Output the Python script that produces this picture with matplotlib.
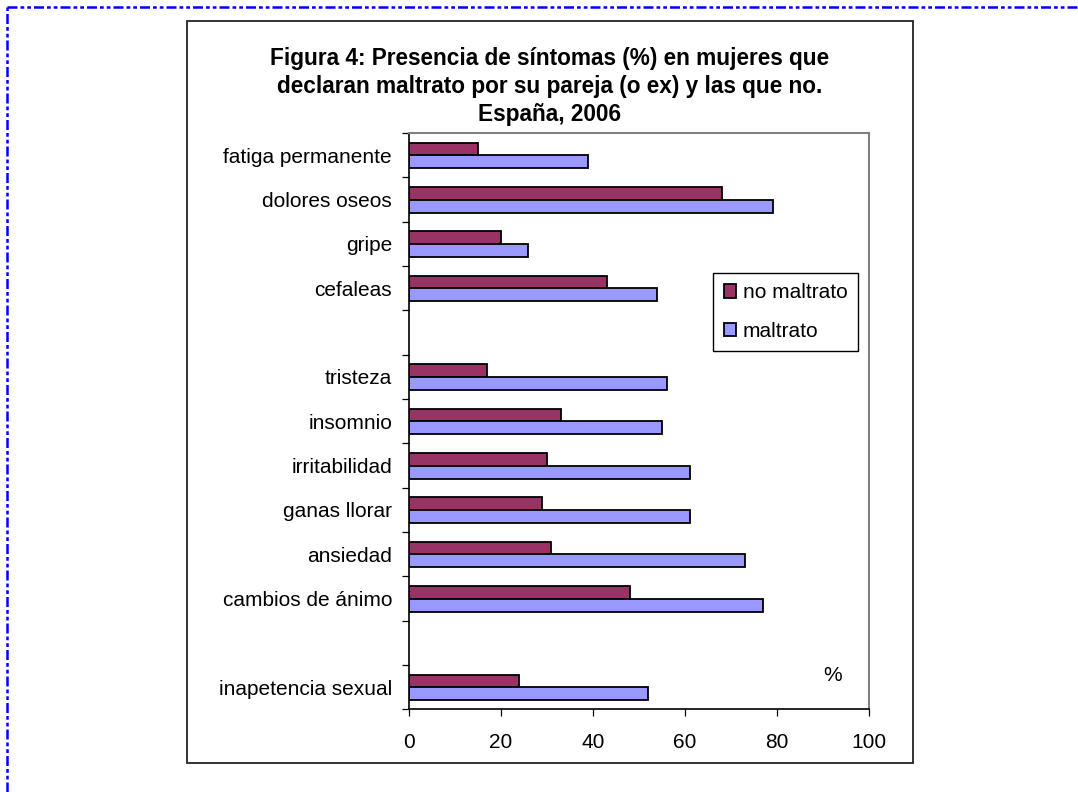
import numpy as np
import matplotlib
matplotlib.use('Agg')
import matplotlib.pyplot as plt
from matplotlib.patches import Rectangle
from matplotlib.lines import Line2D

plt.rcParams['font.family'] = ['Liberation Sans', 'DejaVu Sans']

# Symptoms, top to bottom (empty strings are the gaps between groups)
categories = ['fatiga permanente', 'dolores oseos', 'gripe', 'cefaleas', '',
              'tristeza', 'insomnio', 'irritabilidad', 'ganas llorar',
              'ansiedad', 'cambios de ánimo', '', 'inapetencia sexual']
no_maltrato = [15, 68, 20, 43, None, 17, 33, 30, 29, 31, 48, None, 24]
maltrato = [39, 79, 26, 54, None, 56, 55, 61, 61, 73, 77, None, 52]
series_names = ['no maltrato', 'maltrato']
x_ticks = [0, 20, 40, 60, 80, 100]

title_lines = ['Figura 4: Presencia de síntomas (%) en mujeres que',
               'declaran maltrato por su pareja (o ex) y las que no.',
               'España, 2006']

nm = np.array([np.nan if v is None else v for v in no_maltrato], dtype=float)
m = np.array([np.nan if v is None else v for v in maltrato], dtype=float)
y = np.arange(len(categories))

fig = plt.figure(figsize=(10.78, 7.92), dpi=100)
ax = fig.add_axes([0.3791, 0.1044, 0.4273, 0.7277])

bar_h = 0.29
ax.barh(y - 0.14, nm, height=bar_h, color='#993366', edgecolor='black',
        linewidth=1.3, label=series_names[0])
ax.barh(y + 0.15, m, height=bar_h, color='#9999FF', edgecolor='black',
        linewidth=1.3, label=series_names[1])

ax.set_xlim(0, 100)
ax.set_ylim(len(categories) - 0.5, -0.5)

# category boundaries carry the tick marks, labels sit in the middle
ax.set_yticks(np.arange(-0.5, len(categories), 1))
ax.set_yticklabels([])
ax.set_yticks(y, minor=True)
ax.set_yticklabels(categories, minor=True, fontsize=15)
ax.tick_params(axis='y', which='major', length=5, width=0.9, direction='out')
ax.tick_params(axis='y', which='minor', length=0, pad=12)

ax.set_xticks(x_ticks)
ax.set_xticklabels([str(t) for t in x_ticks], fontsize=15)
ax.tick_params(axis='x', length=5, width=0.9, direction='out', pad=12)

for side in ['left', 'bottom']:
    ax.spines[side].set_color('black')
    ax.spines[side].set_linewidth(1.2)
for side in ['right', 'top']:
    ax.spines[side].set_color('#808080')
    ax.spines[side].set_linewidth(1.5)

leg = ax.legend(loc='upper left', bbox_to_anchor=(0.661, 0.7576),
                borderaxespad=0, fontsize=15, handlelength=0.62,
                handleheight=0.62, handletextpad=0.3, labelspacing=0.95,
                borderpad=0.5, fancybox=False, framealpha=1)
leg.get_frame().set_edgecolor('black')
leg.get_frame().set_linewidth(1.0)

ax.text(0.921, 0.0595, '%', transform=ax.transAxes, fontsize=15,
        ha='center', va='center')

# title, three centred bold lines
for i, line in enumerate(title_lines):
    fig.text(0.5102, 1 - (58 + 28.5 * i) / 792, line, fontsize=16.3,
             fontweight='bold', ha='center', va='center')

# chart area border
fig.patches.append(Rectangle((187.3 / 1078, 1 - 763 / 792),
                             (913 - 187.3) / 1078, (763 - 20.7) / 792,
                             transform=fig.transFigure, fill=False,
                             edgecolor='#222222', linewidth=1.3))

# page border (blue dash-dot)
dash = (0, (4, 1.2, 1.5, 1.2, 1.5, 1.2))
fig.lines.append(Line2D([7 / 1078, 1], [1 - 7 / 792, 1 - 7 / 792],
                        transform=fig.transFigure, color='blue',
                        linewidth=1.8, linestyle=dash))
fig.lines.append(Line2D([7 / 1078, 7 / 1078], [0, 1 - 7 / 792],
                        transform=fig.transFigure, color='blue',
                        linewidth=1.8, linestyle=dash))

fig.savefig('out.png', dpi=100)
